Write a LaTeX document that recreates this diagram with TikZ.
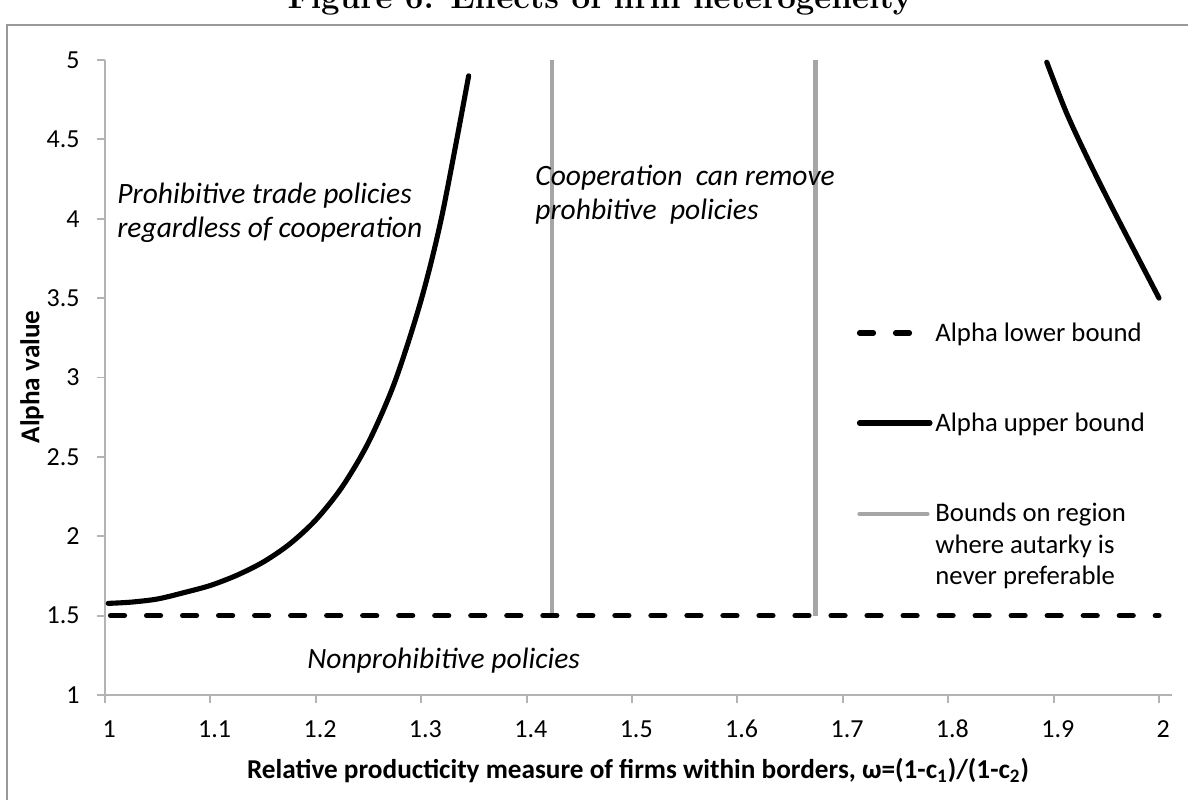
\documentclass[tikz,border=0pt]{standalone}
\usepackage{fontspec}
\newfontfamily\calibri{Carlito}
\definecolor{axisgray}{HTML}{B3B3B3}
\definecolor{boundgray}{HTML}{A6A6A6}
\definecolor{framegray}{HTML}{9A9A9A}

\begin{document}
\begin{tikzpicture}[x=21.08cm, y=3.175cm, line cap=round,
font=\calibri\fontsize{14.8}{17}\selectfont,
upper/.style={line width=2.9pt, black},
lower/.style={line width=2.9pt, black, dash pattern=on 8pt off 12.5pt},
region/.style={line width=2.4pt, boundgray, line cap=butt},
note/.style={font=\calibri\itshape\fontsize{16.8}{19.6}\selectfont,
  align=left, inner sep=0pt}]
   \tikzstyle{axis}=[draw=axisgray, line width=1.1pt, line cap=butt]
   \tikzstyle{legtext}=[font=\calibri\fontsize{15.2}{18}\selectfont,
     align=left, inner sep=0pt, anchor=base west]
\clip (0.90038,0.33858) rectangle (2.02751,5.37795);

% frame and cut title
\draw[framegray, line width=1.6pt] (0.90702,0.2) |- (2.1,5.2205);
\node[font=\rmfamily\bfseries\fontsize{18.8}{22}\selectfont, anchor=base]
  (title) at (1.46964,5.3213) {Figure 6: Effects of firm heterogeneity};

% axes
\draw[axis] (1,5) -- (1,0.94961);
\draw[axis] (0.99241,1) -- (2.0123,1);
\foreach \v/\t in {1.5/1.5,2/2,2.5/2.5,3/3,3.5/3.5,4/4,4.5/4.5,5/5}
  \draw[axis] (0.99241,\v) -- (1,\v);
\foreach \v/\t in {1/1,1.5/1.5,2/2,2.5/2.5,3/3,3.5/3.5,4/4,4.5/4.5,5/5}
  \node[anchor=east, inner sep=0pt] (ylab\t) at (0.97628,\v) {\t};
\foreach \v in {1.1,1.2,1.3,1.4,1.5,1.6,1.7,1.8,1.9,2.0}
  \draw[axis] (\v,1) -- (\v,0.94961);
\foreach \v/\t in {1/1,1.1/1.1,1.2/1.2,1.3/1.3,1.4/1.4,1.5/1.5,1.6/1.6,
  1.7/1.7,1.8/1.8,1.9/1.9,2.0/2}
  \node[inner sep=0pt, anchor=base] (xlab\t) at (\v+0.004,0.7291) {\t};
\node[font=\calibri\bfseries\fontsize{15.5}{18}\selectfont, rotate=90]
  (ytitle) at (0.93074,3.0031) {Alpha value};
\node[font=\calibri\bfseries\fontsize{15.5}{18}\selectfont, anchor=base]
  (xtitle) at (1.50569,0.47087)
  {Relative producticity measure of firms within borders,
   ω=(1-c\textsubscript{1})/(1-c\textsubscript{2})};

% bounds
\draw[region] (1.424,1.5) -- (1.424,5);
\draw[region] (1.674,1.5) -- (1.674,5);
\draw[lower] (1.0052,1.5) -- (2.0,1.5);
\draw[upper] plot[smooth] coordinates {(1.003,1.577) (1.025,1.585)
  (1.05,1.605) (1.075,1.645) (1.1,1.69) (1.125,1.754) (1.15,1.837)
  (1.175,1.95) (1.2,2.103) (1.225,2.311) (1.25,2.592) (1.275,2.973)
  (1.3,3.49) (1.32,4.03) (1.345,4.9)};
\draw[upper] plot[smooth] coordinates {(1.8935,4.986) (1.9124,4.664)
  (1.9345,4.349) (1.9599,4.013) (2.0,3.5)};

% region notes
\node[note, anchor=base west] (prohib) at (1.01139,3.8787)
  {Prohibitive trade policies\\regardless of cooperation};
\node[note, anchor=base west] (coop) at (1.40797,3.9921)
  {Cooperation\ \ can remove\\prohbitive\ \ policies};
\node[note, anchor=base west] (nonprohib) at (1.19165,1.16378)
  {Nonprohibitive policies};

% legend
\draw[lower] (1.7158,3.2803) -- (1.7633,3.2803);
\draw[upper] (1.7158,2.7134) -- (1.7827,2.7134);
\draw[region, line cap=round] (1.7158,2.1402) -- (1.7803,2.1402);
\node[legtext] (leglow) at (1.7875,3.2236) {Alpha lower bound};
\node[legtext] (legup) at (1.7875,2.6598) {Alpha upper bound};
\node[legtext] (legreg) at (1.7875,1.6929)
  {Bounds on region\\where autarky is\\never preferable};
\end{tikzpicture}
\end{document}
